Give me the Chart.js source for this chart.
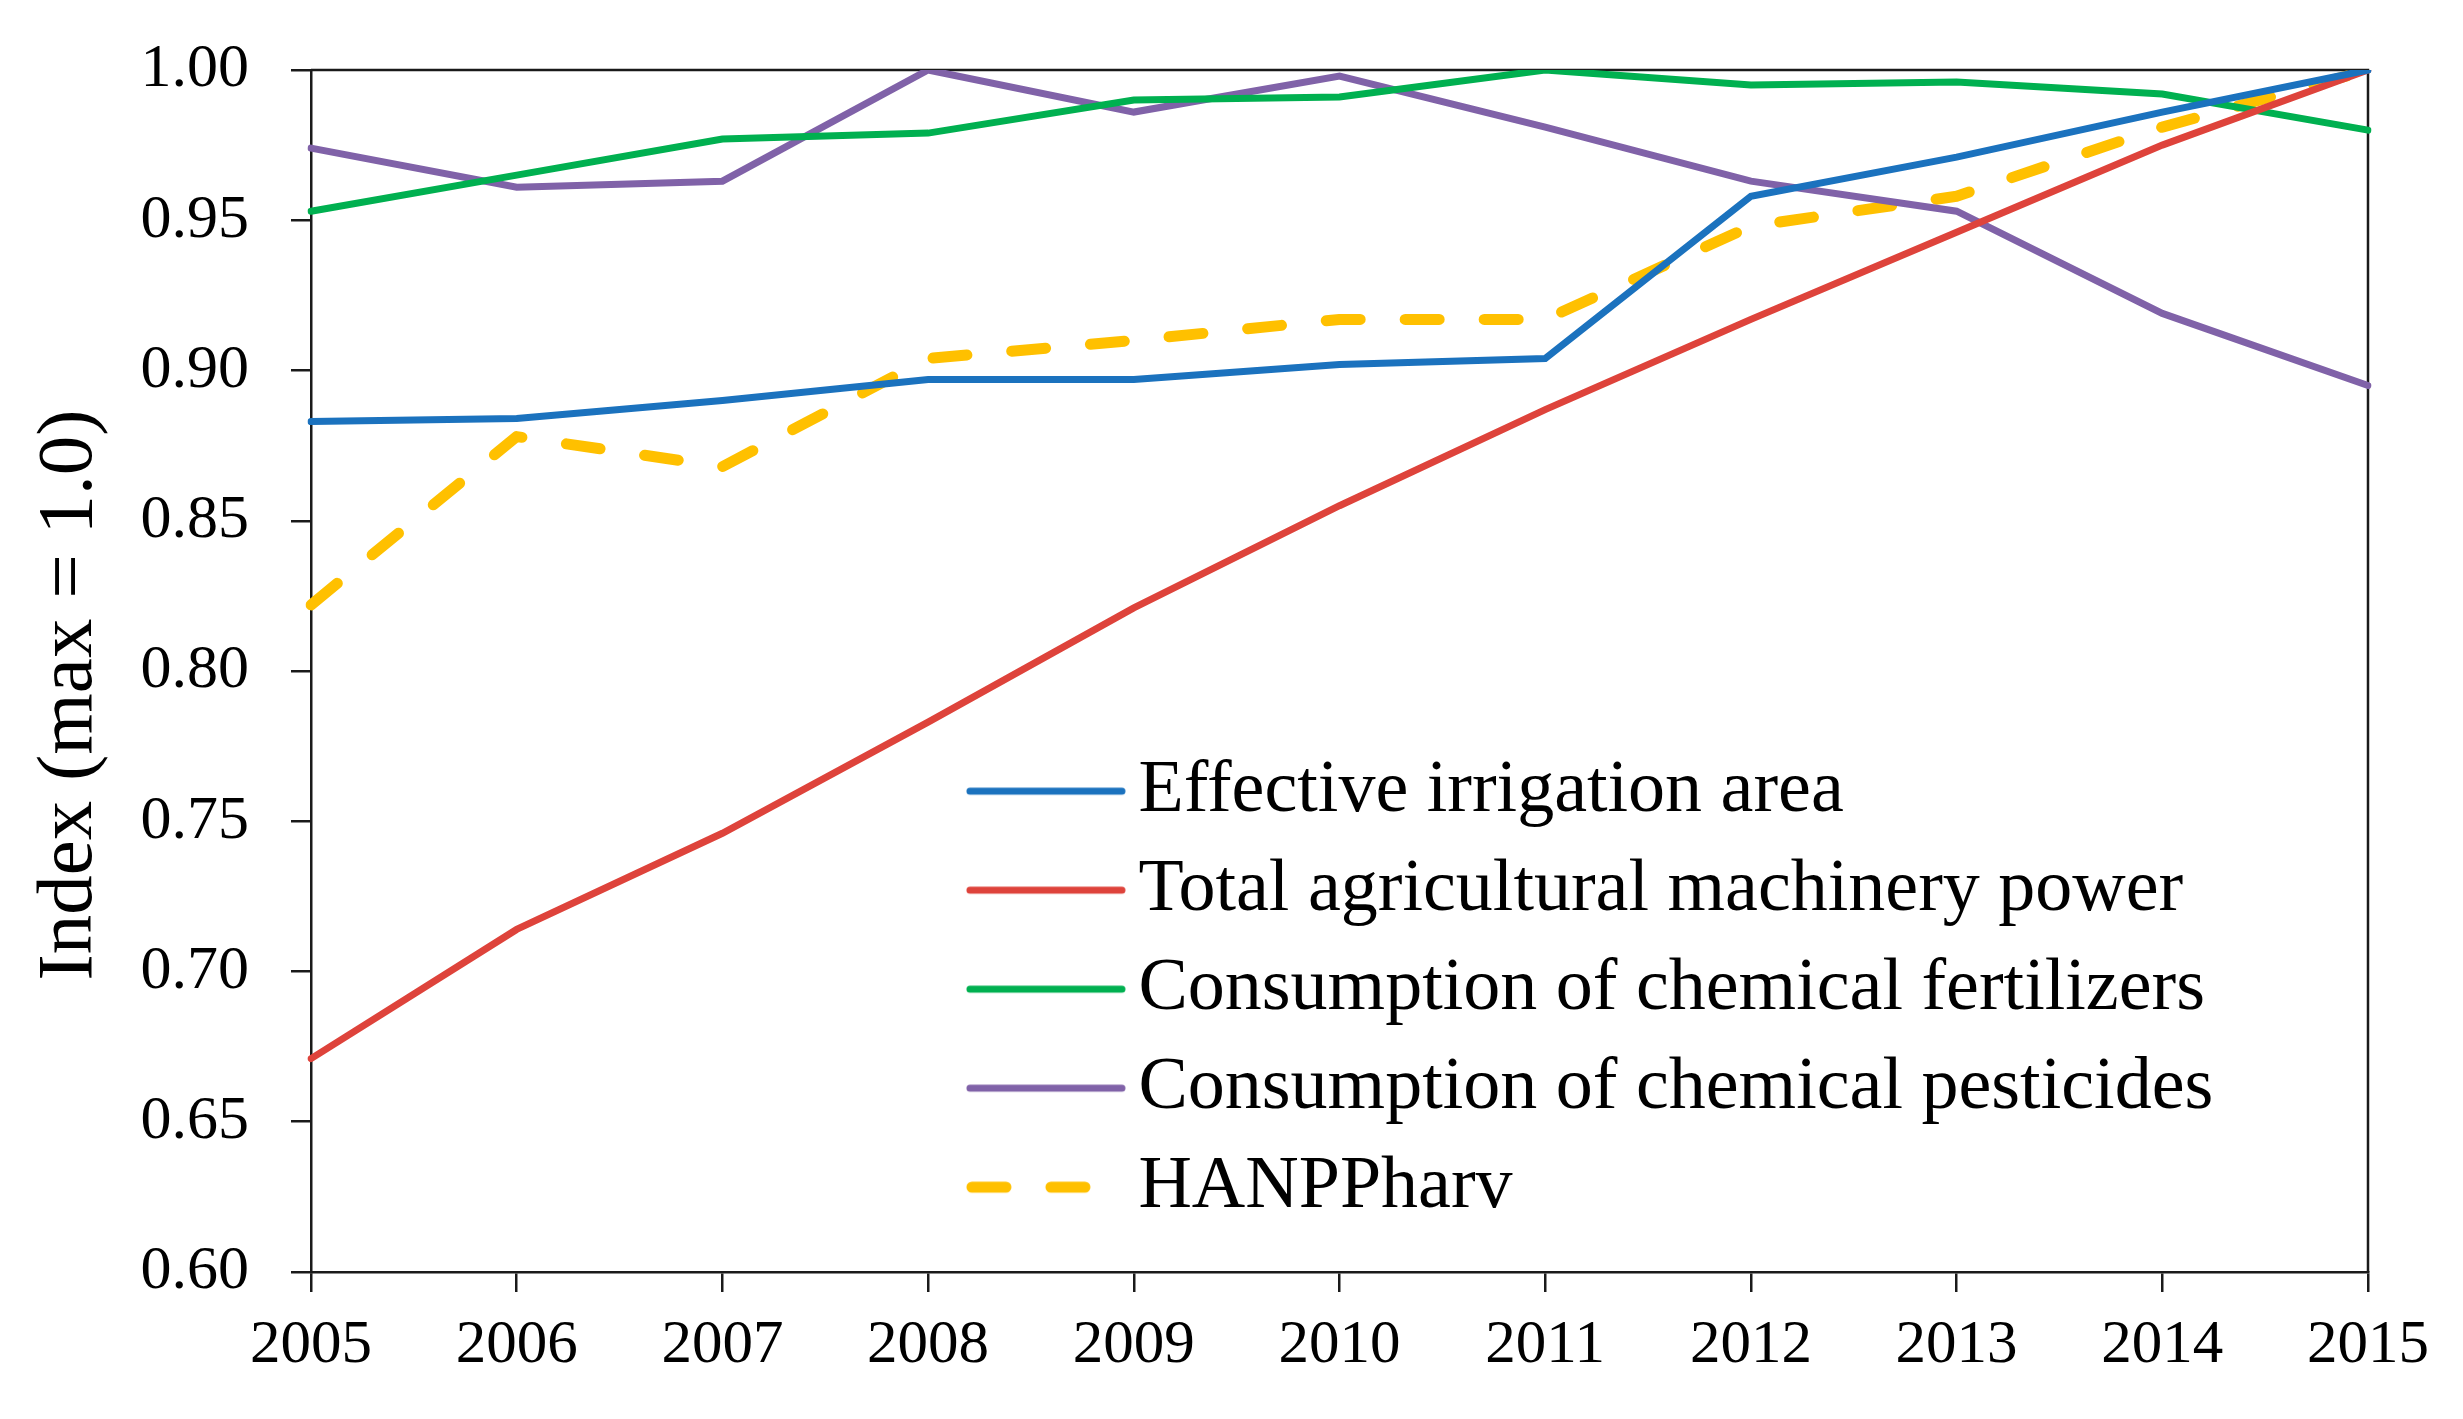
<!DOCTYPE html>
<html>
<head>
<meta charset="utf-8">
<script src="https://cdn.jsdelivr.net/npm/chart.js@4/dist/chart.umd.min.js"></script>
<style>
html,body{margin:0;padding:0;background:#fff;overflow:hidden}
canvas{display:block}
</style>
</head>
<body>
<canvas id="c" width="2463" height="1419" style="width:2463px;height:1419px"></canvas>
<script>
// ---- data ----
const years = ['2005','2006','2007','2008','2009','2010','2011','2012','2013','2014','2015'];
const irrigationArea   = [0.883, 0.884, 0.890, 0.897, 0.897, 0.902, 0.904, 0.958, 0.971, 0.986, 1.000];
const machineryPower   = [0.671, 0.714, 0.746, 0.783, 0.821, 0.855, 0.887, 0.917, 0.946, 0.975, 1.000];
const fertilizerUse    = [0.953, 0.965, 0.977, 0.979, 0.990, 0.991, 1.000, 0.995, 0.996, 0.992, 0.980];
const pesticideUse     = [0.974, 0.961, 0.963, 1.000, 0.986, 0.998, 0.981, 0.963, 0.953, 0.919, 0.895];
const hanppHarv        = [0.822, 0.878, 0.868, 0.904, 0.910, 0.917, 0.917, 0.948, 0.958, 0.981, 1.000];
const seriesLabels = [
  'Effective irrigation area',
  'Total agricultural machinery power',
  'Consumption of chemical fertilizers',
  'Consumption of chemical pesticides',
  'HANPPharv'
];
const yAxisTitle = 'Index (max = 1.0)';
const yMin = 0.60, yMax = 1.00, yStep = 0.05;

// ---- styling ----
const FONT = "'Liberation Serif', 'Times New Roman', serif";
const AXIS = '#1a1a1a';
const BLUE = '#1B72BE', RED = '#DE433B', GREEN = '#00B050', PURPLE = '#8062A8', GOLD = '#FFC000';
const SOLID_W = 7, DASH_W = 11, DASH = [34, 45];

function solid(label, data, color) {
  return {
    label, data,
    borderColor: color, backgroundColor: color,
    borderWidth: SOLID_W, pointRadius: 0, pointHoverRadius: 0,
    tension: 0, borderCapStyle: 'round', borderJoinStyle: 'miter', fill: false
  };
}

// legend key glyphs (short line samples), drawn into small canvases
function legendGlyph(color, width, dash) {
  const c = document.createElement('canvas');
  c.width = 160; c.height = 16;
  const g = c.getContext('2d');
  g.strokeStyle = color;
  g.lineWidth = width;
  g.lineCap = 'round';
  g.setLineDash(dash || []);
  g.beginPath();
  g.moveTo(width / 2 + 0.5, 8);
  g.lineTo(160 - (dash ? 0 : width / 2 + 0.5), 8);
  g.stroke();
  return c;
}

const framePlugin = {
  id: 'frame',
  beforeDatasetsDraw(chart) {
    const a = chart.chartArea, ctx = chart.ctx;
    ctx.save();
    ctx.strokeStyle = AXIS;
    ctx.lineWidth = 2.5;
    ctx.beginPath();
    ctx.moveTo(a.left, a.top);
    ctx.lineTo(a.right, a.top);
    ctx.lineTo(a.right, a.bottom);
    ctx.stroke();
    ctx.restore();
  }
};

const layoutTweaks = {
  id: 'layoutTweaks',
  afterLayout(chart) {
    const a = chart.chartArea;
    const lg = chart.legend;
    if (lg) {
      const pad = lg.options.labels.padding;
      lg.left = a.left + (a.right - a.left) * 0.3303 - pad;
      lg.top = a.top + (a.bottom - a.top) * 0.5692 - pad;
      lg.right = chart.width;
      lg.bottom = chart.height;
    }
    const ys = chart.scales.y;
    if (ys && !ys._titleShifted) {
      const orig = ys.drawTitle.bind(ys);
      ys.drawTitle = function () {
        this.ctx.save();
        this.ctx.translate(0, (this.bottom - this.top) * 0.02);
        orig();
        this.ctx.restore();
      };
      ys._titleShifted = true;
    }
  }
};

const chart = new Chart(document.getElementById('c'), {
  type: 'line',
  data: {
    labels: years,
    datasets: [
      solid(seriesLabels[0], irrigationArea, BLUE),
      solid(seriesLabels[1], machineryPower, RED),
      solid(seriesLabels[2], fertilizerUse, GREEN),
      solid(seriesLabels[3], pesticideUse, PURPLE),
      {
        label: seriesLabels[4], data: hanppHarv,
        borderColor: GOLD, backgroundColor: GOLD,
        borderWidth: DASH_W, borderDash: DASH, borderCapStyle: 'round',
        borderJoinStyle: 'round', pointRadius: 0, pointHoverRadius: 0, tension: 0, fill: false
      }
    ]
  },
  options: {
    responsive: false,
    devicePixelRatio: 1,
    animation: false,
    layout: { padding: { top: 70, right: 95, left: 0, bottom: 0 } },
    plugins: {
      legend: {
        position: 'chartArea',
        align: 'start',
        labels: {
          usePointStyle: true,
          pointStyleWidth: 111,
          boxHeight: 10,
          padding: 25,
          color: '#000',
          font: { family: FONT, size: 74 },
          generateLabels(ch) {
            const items = Chart.defaults.plugins.legend.labels.generateLabels(ch);
            items.forEach(it => {
              const ds = ch.data.datasets[it.datasetIndex];
              it.pointStyle = legendGlyph(ds.borderColor, ds.borderWidth, ds.borderDash);
            });
            return items;
          }
        }
      },
      tooltip: { enabled: false }
    },
    scales: {
      x: {
        type: 'category',
        offset: false,
        grid: { display: true, drawOnChartArea: false, drawTicks: true, tickLength: 20, color: AXIS, lineWidth: 2.5 },
        border: { display: true, color: AXIS, width: 2.5 },
        ticks: { color: '#000', font: { family: FONT, size: 61 }, padding: 17, maxRotation: 0, autoSkip: false },
        afterFit(s) { s.height = 147; }
      },
      y: {
        min: yMin, max: yMax,
        grid: { display: true, drawOnChartArea: false, drawTicks: true, tickLength: 20, color: AXIS, lineWidth: 2.5 },
        border: { display: true, color: AXIS, width: 2.5 },
        ticks: {
          stepSize: yStep, color: '#000', font: { family: FONT, size: 62 }, padding: 42,
          callback: v => Number(v).toFixed(2)
        },
        title: { display: true, text: yAxisTitle, color: '#000', font: { family: FONT, size: 79 }, padding: { top: 23, bottom: 0 } },
        afterFit(s) { s.width = 311; s.paddingTop = 0; s.paddingBottom = 0; }
      }
    }
  },
  plugins: [framePlugin, layoutTweaks]
});
</script>
</body>
</html>
